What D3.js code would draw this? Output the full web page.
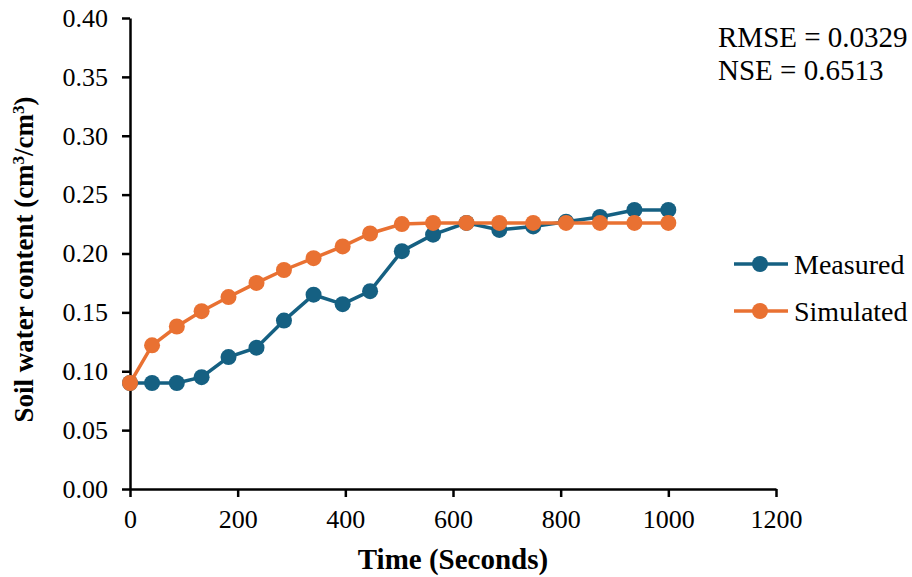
<!DOCTYPE html>
<html>
<head>
<meta charset="utf-8">
<script src="https://cdn.jsdelivr.net/npm/d3@7"></script>
<style>
  body { margin: 0; background: #fff; }
  svg { display: block; }
  svg text { font-family: "Liberation Serif", "Times New Roman", serif; fill: #000; }
</style>
</head>
<body>
<div id="chart"></div>
<script>
// data
const times = [0, 41, 87, 133, 183, 235, 286, 341, 395, 446, 505, 563, 625, 686, 749, 810, 873, 937, 1000];
const measured = [0.090, 0.090, 0.090, 0.095, 0.112, 0.120, 0.143, 0.165, 0.157, 0.168, 0.202, 0.216, 0.226, 0.220, 0.223, 0.227, 0.231, 0.237, 0.237];
const simulated = [0.090, 0.122, 0.138, 0.151, 0.163, 0.175, 0.186, 0.196, 0.206, 0.217, 0.225, 0.226, 0.226, 0.226, 0.226, 0.226, 0.226, 0.226, 0.226];
const seriesNames = ['Measured', 'Simulated'];
const seriesColors = ['#156082', '#E97132'];
const xTicks = [0, 200, 400, 600, 800, 1000, 1200];
const yTicks = [0, 0.05, 0.10, 0.15, 0.20, 0.25, 0.30, 0.35, 0.40];
const stats = ['RMSE = 0.0329', 'NSE = 0.6513'];

const width = 912, height = 577;
const margin = { left: 130, right: 136, top: 18, bottom: 88 };

const svg = d3.select('#chart').append('svg')
  .attr('width', width)
  .attr('height', height);

const x = d3.scaleLinear().domain([0, 1200]).range([margin.left, width - margin.right]);
const y = d3.scaleLinear().domain([0, 0.4]).range([height - margin.bottom, margin.top]);

// axes
const xAxis = svg.append('g')
  .attr('transform', `translate(0,${y(0)})`)
  .call(d3.axisBottom(x).tickValues(xTicks).tickSize(8).tickSizeOuter(0).tickPadding(13).tickFormat(d3.format('d')));

const yAxis = svg.append('g')
  .attr('transform', `translate(${x(0)},0)`)
  .call(d3.axisLeft(y).tickValues(yTicks).tickSize(8).tickSizeOuter(0).tickPadding(14).tickFormat(d3.format('.2f')));

[xAxis, yAxis].forEach(g => {
  g.attr('font-family', null).attr('font-size', null);
  g.select('.domain').attr('stroke', '#000').attr('stroke-width', 2.5);
  g.selectAll('.tick line').attr('stroke', '#000').attr('stroke-width', 2.5);
  g.selectAll('.tick text')
    .attr('fill', '#000')
    .style('font-size', '26px');
});

// axis titles
svg.append('text')
  .attr('x', (x(0) + x(1200)) / 2)
  .attr('y', 569)
  .attr('text-anchor', 'middle')
  .style('font-size', '29px')
  .style('font-weight', 'bold')
  .text('Time (Seconds)');

const yTitle = svg.append('text')
  .attr('transform', `translate(33,${(y(0) + y(0.4)) / 2 + 6}) rotate(-90)`)
  .attr('text-anchor', 'middle')
  .style('font-size', '27px')
  .style('font-weight', 'bold');
yTitle.append('tspan').text('Soil water content (cm');
yTitle.append('tspan').attr('baseline-shift', 'super').style('font-size', '17px').text('3');
yTitle.append('tspan').text('/cm');
yTitle.append('tspan').attr('baseline-shift', 'super').style('font-size', '17px').text('3');
yTitle.append('tspan').text(')');

// series
const series = [measured, simulated];
const line = d3.line().x((d, i) => x(times[i])).y(d => y(d));

series.forEach((vals, s) => {
  const g = svg.append('g');
  g.append('path')
    .datum(vals)
    .attr('fill', 'none')
    .attr('stroke', seriesColors[s])
    .attr('stroke-width', 3.5)
    .attr('d', line);
  g.selectAll('circle')
    .data(vals)
    .join('circle')
    .attr('cx', (d, i) => x(times[i]))
    .attr('cy', d => y(d))
    .attr('r', 8)
    .attr('fill', seriesColors[s]);
});

// legend
seriesNames.forEach((name, i) => {
  const ly = 264 + i * 47;
  const g = svg.append('g');
  g.append('line')
    .attr('x1', 734).attr('x2', 788)
    .attr('y1', ly).attr('y2', ly)
    .attr('stroke', seriesColors[i]).attr('stroke-width', 3.5);
  g.append('circle').attr('cx', 760).attr('cy', ly).attr('r', 8).attr('fill', seriesColors[i]);
  g.append('text')
    .attr('x', 794).attr('y', ly)
    .attr('dy', '0.34em')
    .style('font-size', '28px')
    .text(name);
});

// fit statistics
stats.forEach((t, i) => {
  svg.append('text')
    .attr('x', 718)
    .attr('y', 47 + i * 33)
    .style('font-size', '29px')
    .text(t);
});
</script>
</body>
</html>
